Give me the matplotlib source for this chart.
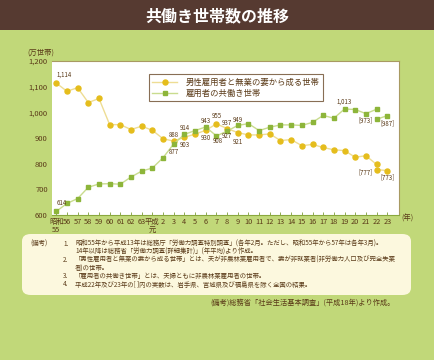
import matplotlib
matplotlib.use("Agg")
import matplotlib.pyplot as plt
from matplotlib.patches import Rectangle, FancyBboxPatch

plt.rcParams['font.family'] = ['Noto Sans CJK JP', 'DejaVu Sans']

# ---- data ----
year_labels = ['昭和\n55', '56', '57', '58', '59', '60', '61', '62', '63', '平成\n元',
               '2', '3', '4', '5', '6', '7', '8', '9', '10', '11', '12', '13', '14',
               '15', '16', '17', '18', '19', '20', '21', '22', '23']
male_single = [1114, 1082, 1096, 1038, 1054, 952, 952, 933, 946, 930, 897, 888, 903,
               915, 930, 955, 937, 921, 912, 912, 916, 890, 894, 870, 875, 863, 854,
               851, 825, 831, 797]
dual_income = [614, 645, 664, 708, 721, 722, 720, 748, 771, 783, 823, 877, 914, 929,
               943, 908, 927, 949, 956, 929, 942, 951, 951, 949, 961, 988, 977, 1013,
               1011, 995, 1012]
male_excl = [777, 773]      # H22, H23 excluding 3 prefectures
dual_excl = [973, 987]
y_ticks = [600, 700, 800, 900, 1000, 1100, 1200]
y_tick_labels = ['600', '700', '800', '900', '1,000', '1,100', '1,200']

title = '共働き世帯数の推移'
legend_labels = ['男性雇用者と無業の妻から成る世帯', '雇用者の共働き世帯']
notes = [
    ('(備考)', '1.', '昭和55年から平成13年は総務庁「労働力調査特別調査」(各年2月。ただし、昭和55年から57年は各年3月)。'),
    ('', '', '14年以降は総務省「労働力調査(詳細集計)」(年平均)より作成。'),
    ('', '2.', '「男性雇用者と無業の妻から成る世帯」とは、夫が非農林業雇用者で、妻が非就業者(非労働力人口及び完全失業'),
    ('', '', '者)の世帯。'),
    ('', '3.', '「雇用者の共働き世帯」とは、夫婦ともに非農林業雇用者の世帯。'),
    ('', '4.', '平成22年及び23年の[ ]内の実数は、岩手県、宮城県及び福島県を除く全国の結果。'),
]
source = '(備考)総務省「社会生活基本調査」(平成18年)より作成。'

# ---- styles ----
BG = '#c1d879'
BAR = '#563a31'
TXT = '#5a3a18'
Y_MK = '#e5bd1c'
Y_LN = '#eedd94'
G_MK = '#8db53a'
G_LN = '#c9dc8e'

W, H = 435, 360
fig = plt.figure(figsize=(W / 100, H / 100), dpi=100)
fig.patch.set_facecolor(BG)

fig.patches.append(Rectangle((0, 1 - 30 / H), 1, 30 / H, transform=fig.transFigure,
                             facecolor=BAR, edgecolor='none', zorder=0))
fig.text(0.5, 1 - 16 / H, title, ha='center', va='center', color='white',
         fontsize=11.5, fontweight='bold')

ax = fig.add_axes([52 / W, 1 - 215 / H, (399 - 52) / W, (215 - 61) / H])
ax.set_facecolor('white')

x = list(range(len(male_single)))
ax.plot(x, male_single, color=Y_LN, lw=1.0, marker='o', ms=3.6, mfc=Y_MK, mec=Y_MK,
        zorder=3, label=legend_labels[0])
ax.plot(x, dual_income, color=G_LN, lw=1.0, marker='s', ms=3.4, mfc=G_MK, mec=G_MK,
        zorder=3, label=legend_labels[1])
xe = [30, 31]
ax.plot(xe, male_excl, color=Y_LN, lw=1.0, marker='o', ms=3.6, mfc=Y_MK, mec=Y_MK, zorder=3)
ax.plot(xe, dual_excl, color=G_LN, lw=1.0, marker='s', ms=3.4, mfc=G_MK, mec=G_MK, zorder=3)

ax.set_xlim(-0.4, 32.1)
ax.set_ylim(600, 1200)
ax.set_yticks(y_ticks)
ax.set_yticklabels(y_tick_labels)
ax.set_xticks(range(len(year_labels)))
ax.set_xticklabels(year_labels, linespacing=1.0)
ax.tick_params(axis='y', length=0, labelsize=5.5, labelcolor=TXT, pad=3)
ax.tick_params(axis='x', direction='in', length=2.5, width=0.6, color='#7d9c36',
               labelsize=5.3, labelcolor=TXT, pad=2)
for lab_ in ax.get_xticklabels():
    lab_.set_va('top')
for s in ['top', 'right']:
    ax.spines[s].set_color('#a89a62')
    ax.spines[s].set_linewidth(0.8)
ax.spines['left'].set_visible(False)
ax.spines['bottom'].set_color('#8aa83e')
ax.spines['bottom'].set_linewidth(0.8)

ax.text(32.3, 600, '(年)', fontsize=5.3, color=TXT, ha='left', va='top',
        transform=ax.transData, clip_on=False)
fig.text(27 / W, 1 - 53 / H, '(万世帯)', fontsize=5.3, color=TXT, ha='left', va='center')

# data labels
lab_kw = dict(fontsize=4.4, color=TXT, zorder=5)
def lab(i, v, txt, dx=0.0, dy=0.0, ha='center'):
    ax.text(i + dx, v + dy, txt, ha=ha, va='center', **lab_kw)

lab(0, male_single[0], '1,114', 0.0, 34, 'left')
lab(0, dual_income[0], '614', 0.0, 34, 'left')
lab(11, male_single[11], '888', 0.0, 22)
lab(11, dual_income[11], '877', 0.0, -32)
lab(12, male_single[12], '903', 0.0, -31)
lab(12, dual_income[12], '914', 0.0, 25)
lab(14, dual_income[14], '943', 0.0, 24)
lab(14, male_single[14], '930', 0.0, -31)
lab(15, male_single[15], '955', 0.0, 30)
lab(15, dual_income[15], '908', 0.15, -19)
lab(16, male_single[16], '937', 0.0, 22)
lab(16, dual_income[16], '927', 0.0, -21)
lab(17, dual_income[17], '949', 0.0, 20)
lab(17, male_single[17], '921', 0.0, -36)
lab(27, dual_income[27], '1,013', 0.0, 28)
lab(30, dual_excl[0], '[973]', -1.05, -6)
lab(31, dual_excl[1], '[987]', 0.05, -30)
lab(30, male_excl[0], '[777]', -1.05, -12)
lab(31, male_excl[1], '[773]', 0.05, -25)

leg = ax.legend(loc='upper left', bbox_to_anchor=(145 / W, 1 - 70 / H),
                bbox_transform=fig.transFigure, frameon=True, fancybox=False,
                fontsize=6.0, handlelength=3.0, handletextpad=1.0,
                borderpad=0.4, labelspacing=0.25, labelcolor=TXT)
leg.get_frame().set_edgecolor('#6b4a2a')
leg.get_frame().set_linewidth(0.8)

# notes box
fig.patches.append(FancyBboxPatch((22 / W, 1 - 295 / H), (411 - 22) / W, (295 - 234) / H,
                                  boxstyle='round,pad=0.0,rounding_size=0.02',
                                  transform=fig.transFigure, facecolor='#fcf8de',
                                  edgecolor='none', zorder=0))
for k, (a, b, c) in enumerate(notes):
    yy = 1 - (243.5 + 8.2 * k) / H
    if a:
        fig.text(30 / W, yy, a, fontsize=4.6, color=TXT, ha='left', va='center')
    if b:
        fig.text(63 / W, yy, b, fontsize=4.6, color=TXT, ha='left', va='center')
    fig.text(75 / W, yy, c, fontsize=4.6, color=TXT, ha='left', va='center')

fig.text(395 / W, 1 - 303 / H, source, fontsize=5.2, color=TXT, ha='right', va='center')

fig.savefig('out.png', dpi=100, facecolor=fig.get_facecolor())
